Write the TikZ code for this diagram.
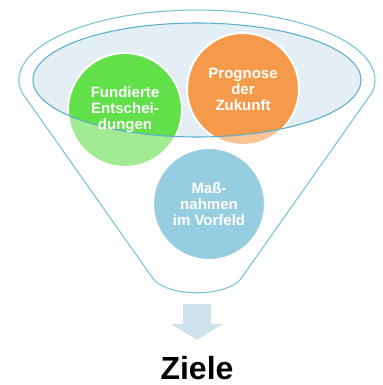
\documentclass[tikz,border=0pt]{standalone}
\usepackage{fontspec}
\setmainfont{Liberation Sans}
\usetikzlibrary{positioning}
\usetikzlibrary{backgrounds}

\definecolor{funnelline}{RGB}{120,194,216}
\definecolor{lensline}{RGB}{92,174,203}
\definecolor{lensfill}{RGB}{227,239,244}
\definecolor{fundgreen}{RGB}{97,224,74}
\definecolor{fundlight}{RGB}{162,235,146}
\definecolor{progorange}{RGB}{245,154,74}
\definecolor{proglight}{RGB}{248,196,150}
\definecolor{massblue}{RGB}{150,205,224}
\definecolor{arrowblue}{RGB}{208,226,235}

\begin{document}
\begin{tikzpicture}[x=0.75pt, y=0.75pt,
    circtext/.style={text=white, align=center, font=\fontsize{11.25}{12}\selectfont\bfseries},
    bubble/.style={draw=white, line width=1.5pt},
]
    \useasboundingbox (0,0) rectangle (382,385);

    \node[circtext] (fund) at (125,275) {Fundierte\\Entschei-\\dungen};
    \node[circtext] (prog) at (243,296) {Prognose\\der\\Zukunft};
    \node[circtext] (mass) at (209,181) {Maß-\\nahmen\\im Vorfeld};

    \node[font=\fontsize{24}{28}\selectfont\bfseries, anchor=base] (ziele) at (197,5) {Ziele};

    \begin{pgfonlayer}{background}
        % funnel outline
        \draw[funnelline, line width=0.8pt] (21.7,292.8)
            arc[start angle=190, end angle=-10, x radius=178, y radius=70]
            -- (240,105) .. controls (224,88) and (170,88) .. (154,105) -- cycle;

        \fill[lensfill] (197,305) ellipse[x radius=164, y radius=57];

        % bubbles, pale below the lens
        \fill[fundlight] (fund.center) circle[radius=57];
        \fill[proglight] (prog.center) circle[radius=56];
        \fill[massblue] (mass.center) circle[radius=56];
        \begin{scope}
            \clip (197,305) ellipse[x radius=164, y radius=57];
            \fill[fundgreen] (fund.center) circle[radius=57];
            \fill[progorange] (prog.center) circle[radius=56];
        \end{scope}
        \draw[bubble] (fund.center) circle[radius=57];
        \draw[bubble] (prog.center) circle[radius=56];
        \draw[bubble] (mass.center) circle[radius=56];

        \draw[lensline, line width=0.8pt] (197,305) ellipse[x radius=164, y radius=57];

        % block arrow
        \fill[arrowblue] (183,81) -- (211,81) -- (211,61) -- (223,61) -- (197,45)
            -- (171,61) -- (183,61) -- cycle;
    \end{pgfonlayer}
\end{tikzpicture}
\end{document}
